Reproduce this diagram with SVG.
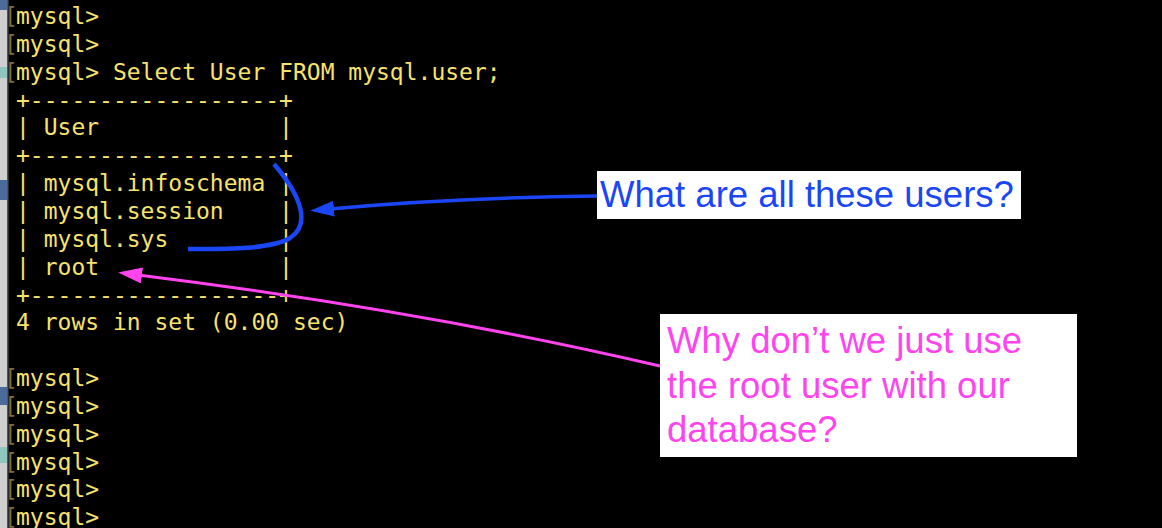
<svg xmlns="http://www.w3.org/2000/svg" width="1162" height="528" viewBox="0 0 1162 528">
<defs>
<style>
.term{font-family:"DejaVu Sans Mono","Liberation Mono",monospace;font-size:23px;fill:#f7e36b;white-space:pre}
.brk{font-family:"DejaVu Sans Mono","Liberation Mono",monospace;font-size:23px;fill:#7c6f3c}
.note{font-family:"Liberation Sans",Arial,sans-serif;font-size:36.5px}
.box{fill:#ffffff}
</style>
<marker id="ahBlue" markerUnits="userSpaceOnUse" markerWidth="26" markerHeight="18" refX="4" refY="8" orient="auto">
<path d="M0,0 L24,8 L0,16 Z" fill="#1b46f5"/>
</marker>
<marker id="ahPink" markerUnits="userSpaceOnUse" markerWidth="26" markerHeight="18" refX="4" refY="8" orient="auto">
<path d="M0,0 L24,8 L0,16 Z" fill="#ff44ee"/>
</marker>
</defs>
<rect x="0" y="0" width="1162" height="528" fill="#000000"/>
<g id="window-edge">
<rect x="0" y="0" width="7" height="528" fill="#cfcfcf"/>
<rect x="0" y="0" width="7" height="10" fill="#4a6a9a"/>
<rect x="0" y="67" width="7" height="11" fill="#8fc7c0"/>
<rect x="0" y="180" width="7" height="20" fill="#4a6a9a"/>
<rect x="0" y="387" width="7" height="18" fill="#4a6a9a"/>
<rect x="0" y="447" width="7" height="16" fill="#8fc7c0"/>
<rect x="7" y="0" width="1.5" height="528" fill="#555555"/>
</g>
<g id="terminal" xml:space="preserve">
<text class="brk" x="4" y="24">[</text>
<text class="brk" x="4" y="51.85">[</text>
<text class="brk" x="4" y="79.7">[</text>
<text class="term" x="16" y="24">mysql&gt;</text>
<text class="term" x="16" y="51.85">mysql&gt;</text>
<text class="term" x="16" y="79.7">mysql&gt; Select User FROM mysql.user;</text>
<text class="term" x="16" y="107.55">+------------------+</text>
<text class="term" x="16" y="135.4">| User             |</text>
<text class="term" x="16" y="163.25">+------------------+</text>
<text class="term" x="16" y="191.1">| mysql.infoschema |</text>
<text class="term" x="16" y="218.95">| mysql.session    |</text>
<text class="term" x="16" y="246.8">| mysql.sys        |</text>
<text class="term" x="16" y="274.65">| root             |</text>
<text class="term" x="16" y="302.5">+------------------+</text>
<text class="term" x="16" y="330.35">4 rows in set (0.00 sec)</text>
<text class="brk" x="4" y="386.05">[</text>
<text class="brk" x="4" y="413.9">[</text>
<text class="brk" x="4" y="441.75">[</text>
<text class="brk" x="4" y="469.6">[</text>
<text class="brk" x="4" y="497.45">[</text>
<text class="brk" x="4" y="525.3">[</text>
<text class="term" x="16" y="386.05">mysql&gt;</text>
<text class="term" x="16" y="413.9">mysql&gt;</text>
<text class="term" x="16" y="441.75">mysql&gt;</text>
<text class="term" x="16" y="469.6">mysql&gt;</text>
<text class="term" x="16" y="497.45">mysql&gt;</text>
<text class="term" x="16" y="525.3">mysql&gt;</text>
</g>
<g id="connectors" fill="none">
<path id="brace" d="M274,164 C296,190 314,222 290,238 C270,250 220,249 188,249" stroke="#1b46f5" stroke-width="4.5" stroke-linecap="butt"/>
<path id="arrow-users" d="M597,196 Q450,198 330,209" stroke="#1b46f5" stroke-width="3.5" marker-end="url(#ahBlue)"/>
<path id="arrow-root" d="M660,366 Q420,310 138,275" stroke="#ff44ee" stroke-width="3" marker-end="url(#ahPink)"/>
</g>
<g id="note-users">
<rect class="box" x="597" y="171" width="424" height="48"/>
<text class="note" x="600" y="207" fill="#1b46f5">What are all these users?</text>
</g>
<g id="note-root">
<rect class="box" x="660" y="314" width="417" height="143"/>
<text class="note" fill="#ff44ee"><tspan x="667" y="353">Why don’t we just use</tspan><tspan x="667" y="398">the root user with our</tspan><tspan x="667" y="442">database?</tspan></text>
</g>
</svg>
